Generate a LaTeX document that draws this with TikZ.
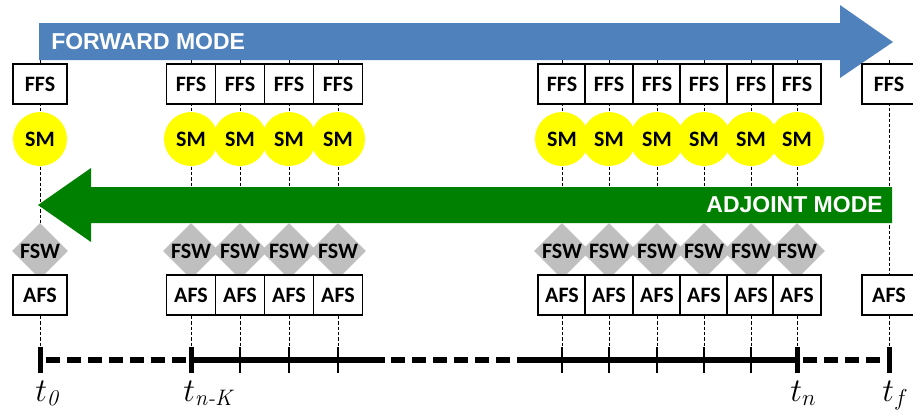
\documentclass[tikz,border=0pt]{standalone}
\usepackage{amsmath}
\usepackage{fontspec}
\newfontfamily\boxfont{Carlito}
\newfontfamily\modefont{Liberation Sans}
\usetikzlibrary{shapes.geometric,calc}
\definecolor{fwdblue}{HTML}{4F81BD}
\definecolor{adjgreen}{HTML}{008000}
\definecolor{smyellow}{HTML}{FFFF00}
\definecolor{fswgray}{HTML}{BFBFBF}
\tikzset{
  guide/.style={draw=black, line width=0.6pt, dash pattern=on 2.5pt off 1.5pt},
  fs/.style={
    draw=black, line width=1.2pt, fill=white, minimum height=30pt,
    inner sep=0pt, font=\boxfont\bfseries\fontsize{16.5}{19}\selectfont},
  sm/.style={
    circle, fill=smyellow, minimum size=40.5pt, inner sep=0pt,
    font=\boxfont\bfseries\fontsize{16.5}{19}\selectfont},
  fsw/.style={
    diamond, aspect=1, fill=fswgray, minimum width=42pt, minimum height=42pt,
    inner sep=0pt, font=\boxfont\bfseries\fontsize{16.5}{19}\selectfont},
  modelbl/.style={text=white, inner sep=0pt,
    font=\modefont\bfseries\fontsize{17.25}{20}\selectfont},
  tline/.style={draw=black, line width=4pt},
  gapdash/.style={dash pattern=on 10.5pt off 5.25pt, dash phase=11pt},
  bigtick/.style={draw=black, line width=3.75pt},
  smalltick/.style={draw=black, line width=1.5pt},
  tlbl/.style={anchor=base west, inner sep=0pt, font=\fontsize{24}{27}\selectfont},
}

\begin{document}
\begin{tikzpicture}[x=0.75pt, y=-0.75pt]
\useasboundingbox (0,0) rectangle (913,415);

% =====================================================================
% time instants and their guide lines
\foreach \n/\x in {t0/40, a1/191, a2/240, a3/289, a4/338,
                   b1/562, b2/609, b3/657, b4/704, b5/751, b6/797, tf/889} {
  \coordinate (top-\n) at (\x,60);
  \coordinate (ax-\n) at (\x,360);
  \draw[guide] (top-\n) -- (ax-\n);
}

% =====================================================================
% the two sweeps
\fill[fwdblue] (39,23) -- (840,23) -- (840,5) -- (893,42)
  -- (840,78) -- (840,60) -- (39,60) -- cycle;
\node[modelbl, anchor=west] (fwd) at (51,42) {FORWARD MODE};

\fill[adjgreen] (38,205) -- (91,168) -- (91,187) -- (892,187)
  -- (892,223) -- (91,223) -- (91,242) -- cycle;
\node[modelbl, anchor=east] (adj) at (883,205) {ADJOINT MODE};

% =====================================================================
% stored states at each instant
\foreach \n/\x in {t0/40, a1/191, a2/240, a3/289, a4/338,
                   b1/562, b2/609, b3/657, b4/704, b5/751, b6/797} {
  \node[sm] (sm-\n) at (\x,139) {SM};
  \node[fsw] (fsw-\n) at (\x,251) {FSW};
}
\foreach \n/\x/\w in {t0/40/40.5pt, a1/191/36.75pt, a2/240/36.75pt,
                      a3/289/36.75pt, a4/338/36.75pt, b1/562/36pt,
                      b2/609/36pt, b3/657/36pt, b4/704/36pt, b5/751/36pt,
                      b6/797/36pt, tf/889/40.5pt} {
  \node[fs, minimum width=\w] (ffs-\n) at (\x,84) {FFS};
  \node[fs, minimum width=\w] (afs-\n) at (\x,295) {AFS};
}

% =====================================================================
% time axis
\coordinate (brk1) at (385,360);
\coordinate (brk2) at (517,360);
\draw[tline, gapdash] (ax-t0) -- (ax-a1);
\draw[tline] (ax-a1) -- (brk1);
\draw[tline, gapdash] (brk1) -- (brk2);
\draw[tline] (brk2) -- (ax-b6);
\draw[tline, gapdash] (ax-b6) -- (ax-tf);

\foreach \n in {t0, a1, b6, tf}
  \draw[bigtick] (ax-\n) ++(0,-13) -- ++(0,26);
\foreach \n in {a2, a3, a4, b1, b2, b3, b4, b5}
  \draw[smalltick] (ax-\n) ++(0,-13) -- ++(0,26);

\node[tlbl] (lbl-t0) at ($(ax-t0)+(-5,41)$) {$t_{\textit{0}}$};
\node[tlbl] (lbl-a1) at ($(ax-a1)+(-8,41)$) {$t_{\textit{n-K}}$};
\node[tlbl] (lbl-b6) at ($(ax-b6)+(-7,41)$) {$t_{n}$};
\node[tlbl] (lbl-tf) at ($(ax-tf)+(-7,41)$) {$t_{f}$};

\end{tikzpicture}
\end{document}
